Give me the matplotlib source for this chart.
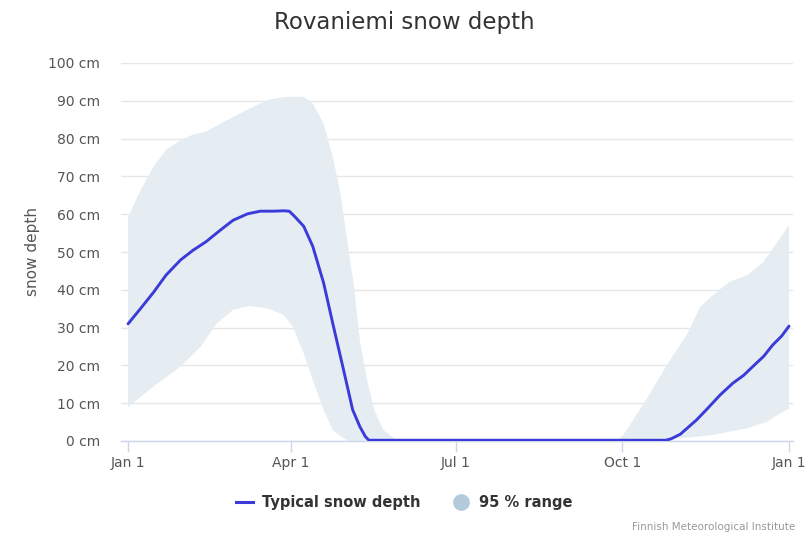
import numpy as np
import matplotlib
matplotlib.use('Agg')
import matplotlib.pyplot as plt
from matplotlib.lines import Line2D

# day of year -> snow depth (cm)
median_days = [0, 7, 14, 21, 29, 36, 43, 51, 58, 66, 73, 80, 86, 89, 92, 97, 102, 108, 113, 119,
               124, 128, 131, 133,
               200, 260, 297, 300, 305, 314, 320, 327, 334, 340, 345, 351, 356, 361, 365]
median_cm = [31, 35.1, 39.3, 43.9, 47.9, 50.5, 52.7, 55.8, 58.4, 60.1, 60.8, 60.8, 60.9, 60.8, 59.4, 56.8,
             51.5, 41.8, 31.2, 18.8, 8.3, 3.8, 1.2, 0.2,
             0.2, 0.2, 0.2, 0.6, 1.8, 5.6, 8.6, 12.2, 15.3, 17.4, 19.7, 22.4, 25.4, 27.8, 30.4]

band_hi_days = [0, 7, 14, 21, 29, 36, 43, 51, 60, 69, 78, 86, 92, 97, 102, 108, 113, 117, 121,
                125, 128, 132, 136, 141, 147, 151,
                200, 270, 274, 286, 297, 309, 316, 323, 332, 342, 351, 358, 365]
band_hi = [59.3, 66.4, 72.6, 77, 79.6, 81.1, 81.8, 84, 86.2, 88.4, 90.3, 91, 91.1, 91, 89.3, 84, 75.2, 66.4,
           53.2, 40, 26.7, 16.1, 8.2, 2.9, 0.7, 0,
           0, 0, 2, 10.8, 19.7, 28.5, 35.5, 38.6, 42.1, 43.9, 47.4, 52.3, 57.1]
band_lo_days = [0, 14, 29, 40, 49, 58, 67, 77, 86, 91, 97, 102, 108, 113, 119, 122,
                200, 290, 305, 323, 342, 353, 360, 365]
band_lo = [9, 14.4, 19.7, 24.9, 31.1, 34.7, 35.7, 35.1, 33.3, 30.2, 23.2, 16.1, 8.2, 2.9, 0.7, 0,
           0, 0, 0.7, 1.6, 3.4, 5.1, 7.3, 8.6]

tick_days = [0, 90, 181, 273, 365]
tick_labels = ['Jan 1', 'Apr 1', 'Jul 1', 'Oct 1', 'Jan 1']
y_ticks = list(range(0, 101, 10))

plt.rcParams['font.family'] = ['DejaVu Sans']

fig = plt.figure(figsize=(8.08, 5.39), dpi=100)
ax = fig.add_axes([121/808, 98/539, 672/808, 378/539])

# 95 % range as one polygon: upper edge forward, lower edge back
ax.fill(band_hi_days + band_lo_days[::-1], band_hi + band_lo[::-1],
        color='#e6edf2', linewidth=0, zorder=1)
ax.plot(median_days, median_cm, color='#3b3bd9', linewidth=2.1, zorder=3,
        solid_joinstyle='round', solid_capstyle='round')

ax.set_xlim(-3.9, 367.2)
ax.set_ylim(0, 100)
ax.set_yticks(y_ticks)
ax.set_yticklabels(['{} cm'.format(v) for v in y_ticks])
ax.set_xticks(tick_days)
ax.set_xticklabels(tick_labels)
ax.grid(True, axis='y', color='#e6e6e6', linewidth=1, zorder=0)
ax.set_axisbelow(True)
for s in ['top', 'right', 'left']:
    ax.spines[s].set_visible(False)
ax.spines['bottom'].set_color('#ccd6eb')
ax.spines['bottom'].set_linewidth(1)
ax.tick_params(axis='y', length=0, pad=15, labelsize=10, labelcolor='#555555')
ax.tick_params(axis='x', length=8, width=1, color='#ccd6eb', pad=3, labelsize=10, labelcolor='#555555')
ax.set_ylabel('snow depth', fontsize=11, color='#555555', labelpad=6)

fig.text(0.5, 1 - 22/539, 'Rovaniemi snow depth', ha='center', va='center', fontsize=16.5, color='#333333')

handles = [Line2D([0], [0], color='#3b3bd9', linewidth=2.2),
           Line2D([0], [0], marker='o', linestyle='none', markersize=11,
                  markerfacecolor='#b3cadb', markeredgecolor='#b3cadb')]
fig.legend(handles, ['Typical snow depth', '95 % range'], loc='center', ncol=2,
           bbox_to_anchor=(0.5, 1 - 503/539), frameon=False, handlelength=1.2,
           handletextpad=0.6, columnspacing=2.2, prop={'weight': 'bold', 'size': 10.5},
           labelcolor='#333333')

fig.text(795/808, 1 - 527/539, 'Finnish Meteorological Institute', ha='right', va='center',
         fontsize=7.5, color='#999999')

plt.savefig('out.png', dpi=100)
